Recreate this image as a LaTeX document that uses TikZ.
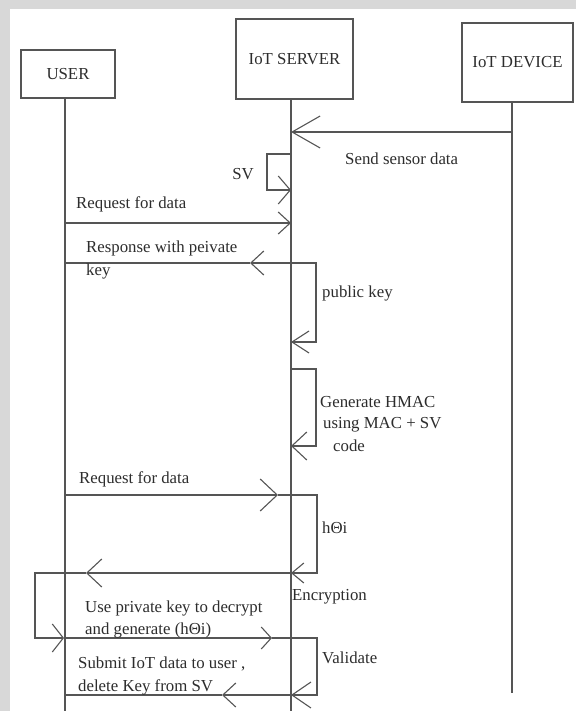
\documentclass[tikz,border=0pt]{standalone}
\usepackage{fontspec}
\setmainfont{Liberation Serif}
\usetikzlibrary{arrows.meta}
\definecolor{lncol}{RGB}{85,85,85}
\definecolor{txtcol}{RGB}{45,45,45}
\definecolor{bgcol}{RGB}{216,216,216}
\begin{document}
\begin{tikzpicture}[x=1pt,y=-1pt,
  ln/.style={draw=lncol,line width=1.1pt},
  hd/.style 2 args={-{Straight Barb[length=#1pt,width=#2pt]}},
  lbl/.style={font=\fontsize{16.8}{20}\selectfont,text=txtcol,inner sep=0pt,anchor=base west},
  actor/.style={draw=lncol,line width=1.1pt,fill=white,inner sep=0pt,
    font=\fontsize{16.8}{20}\selectfont,text=txtcol}]
% background and page
\fill[bgcol] (0,0) rectangle (576,711);
\fill[white] (10,9) rectangle (576,711);
\useasboundingbox (0,0) rectangle (576,711);

% actors
\node[actor,minimum width=94pt,minimum height=48pt] (user) at (68,74) {USER};
\node[actor,minimum width=117pt,minimum height=80pt,text height=11pt,text depth=0pt] (server) at (294.5,59) {IoT SERVER};
\node[actor,minimum width=111pt,minimum height=79pt,text height=11pt,text depth=0pt] (device) at (517.5,62.5) {IoT DEVICE};

% lifelines
\coordinate (ub) at (65,711);
\coordinate (sb) at (291,711);
\coordinate (db) at (512,693);
\draw[ln] (user.south -| ub) -- (ub);
\draw[ln] (server.south -| sb) -- (sb);
\draw[ln] (device.south -| db) -- (db);

% message coordinates
\coordinate (d1) at (512,132);
\coordinate (s1) at (291,132);
\coordinate (s2) at (291,154);
\coordinate (s3) at (291,190);
\coordinate (u1) at (65,223);
\coordinate (s4) at (291,223);
\coordinate (s5) at (291,263);
\coordinate (t1) at (250,263);
\coordinate (u2) at (65,263);
\coordinate (s6) at (291,342);
\coordinate (s7) at (291,369);
\coordinate (s8) at (291,446);
\coordinate (u3) at (65,495);
\coordinate (t2) at (278,495);
\coordinate (s9) at (291,495);
\coordinate (s10) at (291,573);
\coordinate (t3) at (86,573);
\coordinate (u4) at (65,573);
\coordinate (u5) at (64,638);
\coordinate (t4) at (272,638);
\coordinate (s11) at (291,638);
\coordinate (s12) at (291,695);
\coordinate (t5) at (222,695);
\coordinate (u6) at (65,695);

% send sensor data
\draw[ln,hd={28}{32}] (d1) -- (s1);
\node[lbl] (l1) at (345,165) {Send sensor data};

% SV self loop
\draw[ln,hd={12}{28}] (s2) -- ++(-24,0) |- (s3);
\node[lbl,anchor=base] (l2) at (243,180) {SV};

% request for data
\draw[ln,hd={12}{22}] (u1) -- (s4);
\node[lbl] (l3) at (76,209) {Request for data};

% response with private key
\draw[ln,hd={13}{24}] (s5) -- (t1);
\draw[ln] (t1) -- (u2);
\node[lbl] (l4a) at (86,252) {Response with peivate};
\node[lbl] (l4b) at (86,275) {key};

% public key loop
\draw[ln,hd={17}{22}] (s5) -- ++(25,0) |- (s6);
\node[lbl] (l5) at (322,297) {public key};

% generate HMAC loop
\draw[ln,hd={15}{28}] (s7) -- ++(25,0) |- (s8);
\node[lbl] (l6a) at (320,407) {Generate HMAC};
\node[lbl] (l6b) at (323,428) {using MAC + SV};
\node[lbl] (l6c) at (333,451) {code};

% request for data 2
\draw[ln,hd={17}{32}] (u3) -- (t2);
\draw[ln] (t2) -- (s9);
\node[lbl] (l7) at (79,483) {Request for data};

% h loop
\draw[ln,hd={12}{20}] (s9) -- ++(26,0) |- (s10);
\node[lbl] (l8) at (322,533) {hΘi};

% encryption
\draw[ln,hd={15}{28}] (s10) -- (t3);
\draw[ln] (t3) -- (u4);
\node[lbl] (l9) at (292,600) {Encryption};

% user self loop
\draw[ln,hd={11}{28}] (u4) -- ++(-30,0) |- (u5);

% decrypt
\draw[ln,hd={10}{22}] (u5) -- (t4);
\draw[ln] (t4) -- (s11);
\node[lbl] (l10a) at (85,612) {Use private key to decrypt};
\node[lbl] (l10b) at (85,634) {and generate (hΘi)};

% validate loop
\draw[ln,hd={19}{26}] (s11) -- ++(26,0) |- (s12);
\node[lbl] (l11) at (322,663) {Validate};

% submit
\draw[ln,hd={13}{24}] (s12) -- (t5);
\draw[ln] (t5) -- (u6);
\node[lbl] (l12a) at (78,668) {Submit IoT data to user ,};
\node[lbl] (l12b) at (78,691) {delete Key from SV};
\end{tikzpicture}
\end{document}
